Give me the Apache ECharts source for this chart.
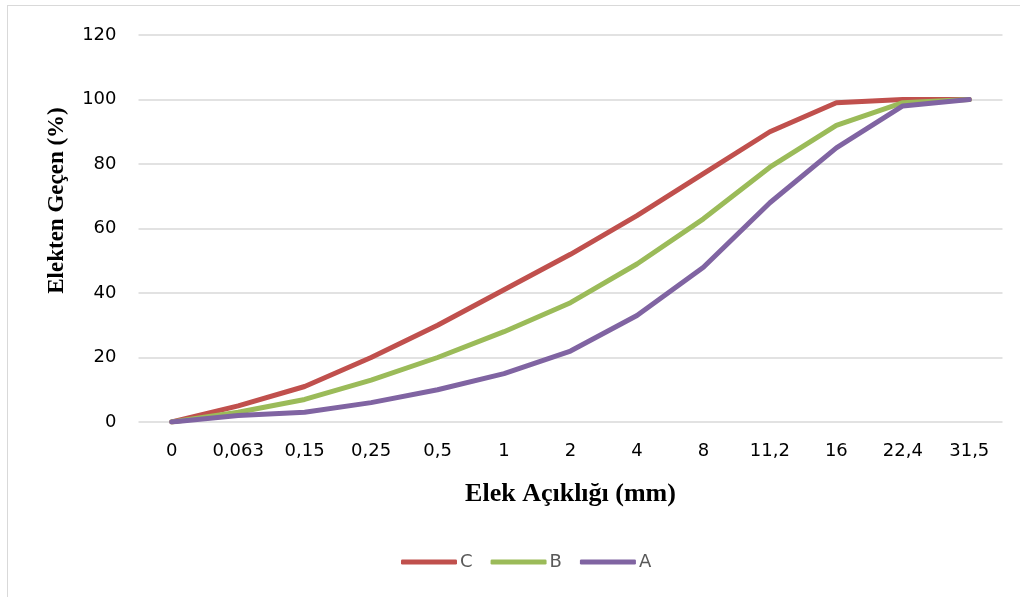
<!DOCTYPE html>
<html><head><meta charset="utf-8">
<script src="https://cdn.jsdelivr.net/npm/echarts@6/dist/echarts.min.js"></script>
<style>
html,body{margin:0;padding:0;background:#fff;}
#frame{position:absolute;left:7px;top:5px;width:1030px;height:620px;border:1px solid #d9d9d9;box-sizing:border-box;}
#c{position:absolute;left:0;top:0;width:1020px;height:597px;}
</style></head>
<body>
<div id="frame"></div>
<div id="c"></div>
<script>
const categories = ['0','0,063','0,15','0,25','0,5','1','2','4','8','11,2','16','22,4','31,5'];
const seriesC = [0, 5, 11, 20, 30, 41, 52, 64, 77, 90, 99, 100, 100];
const seriesB = [0, 3, 7, 13, 20, 28, 37, 49, 63, 79, 92, 99, 100];
const seriesA = [0, 2, 3, 6, 10, 15, 22, 33, 48, 68, 85, 98, 100];
const yTicks = { min: 0, max: 120, interval: 20 };

const chart = echarts.init(document.getElementById('c'), null, {renderer: 'canvas'});
const mk = (name, data, color) => ({
  name, type: 'line', data, symbol: 'none', smooth: false,
  lineStyle: { color, width: 5, cap: 'round', join: 'round' },
  itemStyle: { color }
});
chart.setOption({
  animation: false,
  backgroundColor: 'transparent',
  grid: { left: 138.5, right: 17.5, top: 35, bottom: 175, containLabel: false },
  legend: {
    bottom: 21, left: 396,
    data: ['C','B','A'],
    itemWidth: 56, itemHeight: 5, itemGap: 18,
    icon: 'roundRect',
    textStyle: { color: '#595959', fontSize: 18, fontFamily: 'DejaVu Sans', padding: [0,0,0,-2] }
  },
  xAxis: {
    type: 'category', data: categories, boundaryGap: true,
    name: 'Elek Açıklığı (mm)', nameLocation: 'middle', nameGap: 59,
    nameTextStyle: { fontFamily: 'Liberation Serif', fontWeight: 'bold', fontSize: 26, color: '#000' },
    axisLine: { show: false }, axisTick: { show: false },
    axisLabel: { color: '#000', fontSize: 18, fontFamily: 'DejaVu Sans', margin: 20, interval: 0 }
  },
  yAxis: {
    type: 'value', min: yTicks.min, max: yTicks.max, interval: yTicks.interval,
    name: 'Elekten Geçen (%)', nameLocation: 'middle', nameGap: 70,
    nameTextStyle: { fontFamily: 'Liberation Serif', fontWeight: 'bold', fontSize: 23, color: '#000', padding: [0,0,0,56] },
    axisLine: { show: false }, axisTick: { show: false },
    axisLabel: { color: '#000', fontSize: 18, fontFamily: 'DejaVu Sans', margin: 22 },
    splitLine: { lineStyle: { color: '#d9d9d9', width: 1.5 } }
  },
  series: [
    mk('C', seriesC, '#C0504D'),
    mk('B', seriesB, '#9BBB59'),
    mk('A', seriesA, '#8064A2')
  ]
});
</script>
</body></html>
